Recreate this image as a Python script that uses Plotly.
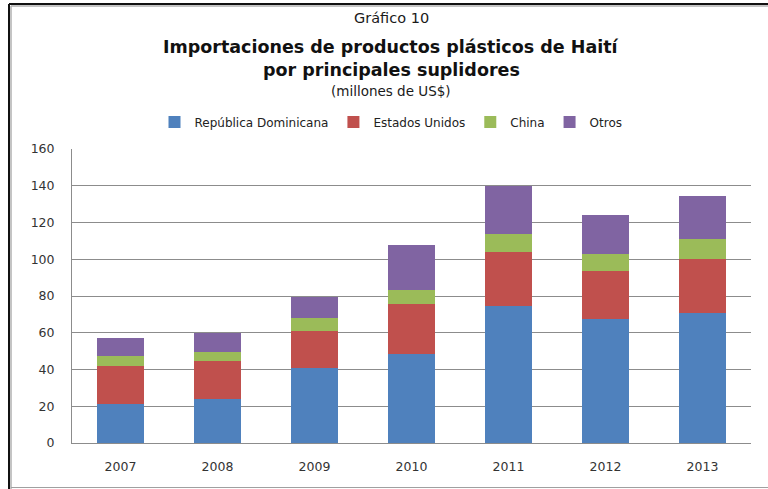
import plotly.graph_objects as go

# ── Data (millones de US$) ───────────────────────────────────────────────────

YEARS = ["2007", "2008", "2009", "2010", "2011", "2012", "2013"]

REP_DOMINICANA = [21.4, 23.7, 40.8, 48.7, 74.3, 67.6, 70.5]
ESTADOS_UNIDOS = [20.6, 21.1, 19.9, 27.2, 29.9, 26.1, 29.9]
CHINA = [5.5, 4.8, 7.4, 7.1, 9.4, 9.4, 10.5]
OTROS = [9.4, 10.4, 11.1, 24.7, 26.5, 21.2, 23.4]

Y_TICKS = [0, 20, 40, 60, 80, 100, 120, 140, 160]

SERIES = [
    ("República Dominicana", REP_DOMINICANA, "#4f81bd"),
    ("Estados Unidos", ESTADOS_UNIDOS, "#c0504d"),
    ("China", CHINA, "#9bbb59"),
    ("Otros", OTROS, "#8064a2"),
]

FONT = "DejaVu Sans, Verdana, sans-serif"
GRID_COLOR = "#8c8c8c"

# layout geometry (pixels)
W, H = 768, 489
M_L, M_R, M_T, M_B = 72, 17, 149, 46
PLOT_W = W - M_L - M_R
PLOT_H = H - M_T - M_B


def px_x(px):
    return (px - M_L) / PLOT_W


def px_y(py):
    return (H - M_B - py) / PLOT_H


fig = go.Figure()
for name, values, color in SERIES:
    fig.add_trace(
        go.Bar(
            x=YEARS,
            y=values,
            name=name,
            marker=dict(color=color, line=dict(width=0)),
        )
    )

center_x = px_x(391)

annotations = [
    dict(text="Gráfico 10", y=px_y(18), font=dict(size=14.5, color="#1a1a1a")),
    dict(text="<b>Importaciones de productos plásticos de Haití</b>", y=px_y(47),
         font=dict(size=17.5, color="#111111")),
    dict(text="<b>por principales suplidores</b>", y=px_y(70),
         font=dict(size=17.5, color="#111111")),
    dict(text="(millones de US$)", y=px_y(91), font=dict(size=13.5, color="#1a1a1a")),
]
for a in annotations:
    fig.add_annotation(
        xref="paper", yref="paper", x=center_x, yanchor="middle",
        xanchor="center", showarrow=False, **a,
    )

# outer frame, as in the original screenshot
frame = [
    (px_x(9), px_y(4), px_x(768), px_y(4), "#111111", 2),
    (px_x(9), px_y(4), px_x(9), px_y(489), "#111111", 2),
    (px_x(11), px_y(6), px_x(768), px_y(6), "#b0b0b0", 1.5),
    (px_x(11), px_y(6), px_x(11), px_y(489), "#b0b0b0", 1.5),
    (px_x(11), px_y(487.5), px_x(768), px_y(487.5), "#a0a0a0", 1),
]
for x0, y0, x1, y1, c, w in frame:
    fig.add_shape(type="line", xref="paper", yref="paper",
                  x0=x0, y0=y0, x1=x1, y1=y1, line=dict(color=c, width=w))

fig.update_layout(
    barmode="stack",
    bargap=0.52,
    width=W,
    height=H,
    margin=dict(l=M_L, r=M_R, t=M_T, b=M_B),
    paper_bgcolor="white",
    plot_bgcolor="white",
    font=dict(family=FONT, color="#222222"),
    legend=dict(
        orientation="h",
        x=center_x,
        xanchor="center",
        y=px_y(122),
        yanchor="middle",
        font=dict(size=12, color="#222222"),
        itemwidth=30,
        traceorder="normal",
    ),
    xaxis=dict(
        showgrid=False,
        showline=True,
        linecolor=GRID_COLOR,
        tickfont=dict(size=12.5, color="#333333"),
        ticks="",
        ticklabelstandoff=12,
    ),
    yaxis=dict(
        range=[0, 160],
        tickvals=Y_TICKS,
        showgrid=True,
        gridcolor=GRID_COLOR,
        gridwidth=1,
        showline=True,
        linecolor=GRID_COLOR,
        zeroline=False,
        tickfont=dict(size=12.5, color="#333333"),
        ticks="",
        ticklabelstandoff=14,
    ),
)

# the page body has a default 8px margin; drop it so the figure fills the window
fig.write_html(
    "out.html",
    config={"displayModeBar": False},
    post_script="document.body.style.margin='0';",
)
